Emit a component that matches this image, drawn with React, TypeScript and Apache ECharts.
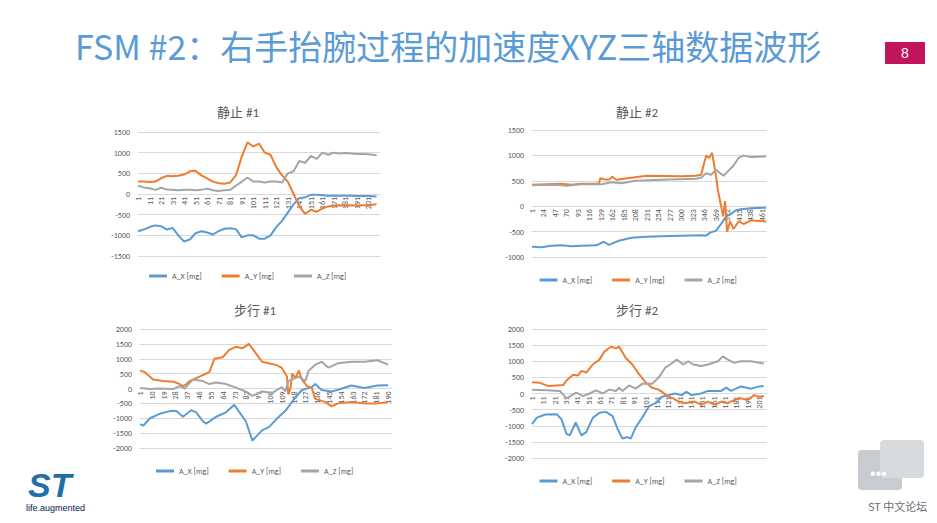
import { useEffect, useRef } from 'react';
import * as echarts from 'echarts';

type P = [number, number][];

const names = ['A_X [mg]', 'A_Y [mg]', 'A_Z [mg]'];
const colors = ['#5B9BD5', '#ED7D31', '#A5A5A5'];
const titles = ['静止 #1', '静止 #2', '步行 #1', '步行 #2'];

// 静止 #1
const s1x: P = [[1,-900],[6,-860],[11,-800],[16,-760],[21,-780],[26,-860],[31,-820],[36,-1000],[41,-1150],[46,-1100],[51,-950],[56,-900],[61,-930],[66,-980],[71,-900],[76,-840],[81,-830],[86,-850],[91,-1050],[96,-1000],[101,-1000],[106,-1080],[111,-1080],[116,-1000],[121,-800],[126,-650],[131,-450],[136,-250],[141,-100],[146,-80],[151,-20],[156,-20],[161,-30],[166,-40],[171,-40],[176,-40],[181,-40],[186,-40],[191,-50],[196,-50],[201,-50],[208,-60]];
const s1y: P = [[1,300],[6,300],[11,290],[16,300],[21,380],[26,440],[31,430],[36,440],[41,470],[46,550],[51,560],[56,450],[61,380],[66,300],[71,260],[76,250],[81,280],[86,450],[91,900],[96,1250],[101,1150],[106,1220],[111,1000],[116,950],[121,650],[126,450],[131,300],[136,0],[141,-300],[146,-480],[151,-380],[156,-430],[161,-350],[166,-300],[171,-280],[176,-270],[181,-280],[186,-270],[191,-280],[196,-270],[201,-270],[208,-250]];
const s1z: P = [[1,200],[6,160],[11,140],[16,100],[21,150],[26,110],[31,100],[36,90],[41,100],[46,100],[51,90],[56,100],[61,130],[66,90],[71,70],[76,90],[81,100],[86,200],[91,300],[96,400],[101,300],[106,300],[111,280],[116,300],[121,300],[126,280],[131,500],[136,550],[141,800],[146,750],[151,920],[156,850],[161,1000],[166,950],[171,1000],[176,980],[181,990],[186,980],[191,970],[196,970],[201,960],[208,940]];

// 静止 #2
const s2x: P = [[1,-800],[20,-810],[40,-780],[60,-770],[80,-790],[100,-780],[130,-770],[145,-700],[155,-760],[175,-680],[200,-620],[230,-600],[260,-590],[300,-580],[340,-570],[350,-580],[358,-520],[370,-480],[380,-350],[390,-200],[400,-150],[410,-80],[420,-60],[440,-40],[470,-30]];
const s2y: P = [[1,420],[30,430],[60,440],[80,420],[100,440],[135,440],[138,550],[145,530],[155,520],[162,580],[170,520],[185,540],[208,570],[231,600],[300,590],[330,600],[340,620],[350,1000],[356,950],[362,1050],[368,700],[374,300],[380,0],[384,-200],[388,100],[392,-500],[398,-300],[405,-450],[415,-300],[425,-350],[440,-280],[470,-300]];
const s2z: P = [[1,410],[50,420],[70,400],[100,430],[140,430],[160,470],[180,450],[208,500],[260,520],[330,540],[340,560],[350,650],[360,620],[370,720],[378,650],[385,600],[395,700],[405,800],[415,950],[425,1000],[440,970],[470,980]];

// 步行 #1
const s3x: P = [[1,-1200],[3.5,-1250],[8.6,-1000],[16,-850],[23.7,-760],[28.7,-760],[33.7,-950],[40,-730],[43.8,-800],[48.9,-1100],[51.4,-1180],[59,-950],[66.5,-800],[72.8,-550],[81.6,-1100],[86.6,-1750],[94.2,-1400],[99.2,-1300],[106.8,-950],[111.8,-750],[119.4,-300],[124.4,-50],[132,50],[134.5,150],[139.5,-50],[147,-100],[152,-40],[162,100],[172,20],[182,100],[190,110]];
const s3y: P = [[1,600],[4.8,550],[11,300],[18.6,250],[26.2,230],[31.2,150],[33.7,80],[36.3,150],[38.8,250],[46.3,400],[53.9,550],[57.7,1000],[64,1050],[69,1300],[74,1400],[79,1350],[84,1500],[89,1200],[94,900],[99,850],[104,800],[109,700],[113,400],[114,-200],[115.6,0],[117,500],[119.4,350],[122,600],[124.4,300],[128,100],[132,0],[134.5,-350],[142,-450],[147,-600],[152,-500],[162,-450],[172,-500],[182,-500],[190,-450]];
const s3z: P = [[1,20],[8.6,-20],[16,0],[26.2,-20],[31.2,80],[35,0],[41.3,300],[48.9,250],[53.9,150],[59,200],[66.5,150],[74,30],[81.6,-100],[86.6,-250],[94.2,-100],[101.8,-150],[109,50],[111.8,-100],[114,250],[122,400],[127,250],[129.5,600],[134.5,800],[139.5,900],[144.6,700],[152,850],[162,900],[172,900],[182,950],[190,800]];

// 步行 #2
const s4x: P = [[1,-950],[5.3,-750],[12.6,-650],[22.7,-640],[27,-800],[31.4,-1250],[34.3,-1300],[39.5,-900],[44.5,-1300],[48.8,-1200],[54.6,-750],[60.4,-600],[66.2,-570],[72,-700],[76.4,-1100],[80.7,-1400],[85,-1350],[88,-1400],[92.3,-1050],[98,-750],[104,-400],[109.7,-300],[115.5,-100],[121.3,-50],[127,0],[133,-50],[137,50],[141.6,-50],[150,0],[156,80],[164.8,80],[167.7,80],[172,180],[176.4,80],[185,220],[193.8,150],[201,220],[205,230]];
const s4y: P = [[1,350],[8.2,330],[15.5,230],[22.7,250],[28.5,260],[31.4,400],[37.2,580],[41.6,560],[44.5,700],[48.8,650],[54.6,900],[60.4,1050],[64.8,1300],[70.6,1450],[75,1400],[77.8,1450],[83.6,1100],[89.4,900],[95.2,600],[101,350],[106.8,180],[112.6,120],[115.5,50],[121.3,-100],[125.6,-150],[130,-250],[135.8,-300],[144.5,-250],[150.3,-350],[156,-250],[161.9,-350],[167.7,-250],[173.5,-300],[179.3,-200],[185,-150],[190.9,-200],[196.7,-50],[201,-100],[205.3,-80]];
const s4z: P = [[1,120],[14,100],[25.6,80],[31.4,-150],[40,30],[45.9,-80],[51.7,0],[57.5,100],[63.3,0],[69,120],[74.9,80],[77.8,180],[80.7,80],[86.5,250],[92.3,150],[98,300],[106.8,300],[112.6,500],[118.4,800],[122.7,900],[128.5,1050],[134.3,900],[138.7,1000],[143,900],[150.3,850],[156,900],[164.8,1000],[169,1150],[173.5,1050],[179.3,950],[185,1000],[193.8,1000],[201,950],[205.3,930]];

const seriesData = [[s1x, s1y, s1z], [s2x, s2y, s2z], [s3x, s3y, s3z], [s4x, s4y, s4z]];
const xMax = [211, 472, 193, 208];
const xStep = [10, 23, 9, 10];
const yRange = [[-1500, 1500], [-1000, 1500], [-2000, 2000], [-2000, 2000]];

// layout of the four panels: [left, right, top, bottom, titleX, titleY, legendY]
const panels = [
  [138, 380, 132, 256, 233, 110, 273],
  [532, 767, 130, 257, 632, 110, 277],
  [140, 392, 329, 448, 250, 308, 468],
  [532, 767, 329, 458, 632, 308, 478],
];

const W = 937, H = 523;
const grey = '#595959';

export default function App() {
  const ref = useRef<HTMLDivElement>(null);

  useEffect(() => {
    if (!ref.current) return;
    document.body.style.margin = '0';
    const chart = echarts.init(ref.current, undefined, { renderer: 'svg' });
    const font = 'Calibri, "Liberation Sans", "Noto Sans CJK SC", sans-serif';

    const series: any[] = [];
    seriesData.forEach((group, gi) =>
      group.forEach((d, si) =>
        series.push({
          name: names[si], type: 'line', xAxisIndex: gi, yAxisIndex: gi, data: d,
          showSymbol: false, lineStyle: { width: 2, color: colors[si] }, itemStyle: { color: colors[si] },
        }),
      ),
    );

    chart.setOption({
      animation: false,
      backgroundColor: '#fff',
      textStyle: { fontFamily: font },
      title: panels.map((p, i) => ({
        text: titles[i], left: p[4], top: p[5] - 9, textAlign: 'center',
        textStyle: { fontSize: 13, fontWeight: 'normal', color: grey, fontFamily: font },
      })),
      legend: panels.map((p) => ({
        data: names, left: (p[0] + p[1]) / 2 - 115, top: p[6] - 6, itemGap: 20,
        icon: 'rect', itemWidth: 18, itemHeight: 3, textStyle: { fontSize: 8, color: grey },
      })),
      grid: panels.map((p) => ({ left: p[0], width: p[1] - p[0], top: p[2], height: p[3] - p[2] })),
      xAxis: panels.map((p, i) => ({
        type: 'value', gridIndex: i, min: 1, max: xMax[i], interval: xStep[i], position: 'bottom',
        // put the axis on the zero line, as in the source charts
        offset: -((0 - yRange[i][0]) / (yRange[i][1] - yRange[i][0])) * (p[3] - p[2]),
        axisLine: { onZero: false, lineStyle: { color: '#D9D9D9' } },
        axisTick: { show: false }, splitLine: { show: false },
        axisLabel: { rotate: 90, fontSize: 8, color: grey, margin: 3, showMaxLabel: false, showMinLabel: true },
      })),
      yAxis: panels.map((_, i) => ({
        type: 'value', gridIndex: i, min: yRange[i][0], max: yRange[i][1], interval: 500,
        axisLine: { show: false, onZero: false }, axisTick: { show: false },
        splitLine: { lineStyle: { color: '#D9D9D9' } },
        axisLabel: { fontSize: 8, color: grey, margin: 8, formatter: (v: number) => String(v) },
      })),
      series,
      graphic: [
        { type: 'text', left: 75, top: 28, style: { text: 'FSM #2：右手抬腕过程的加速度XYZ三轴数据波形', fontSize: 34, fill: '#5B9BD5', fontFamily: '"Noto Sans CJK SC", sans-serif' } },
        { type: 'rect', shape: { x: 885, y: 42, width: 40, height: 22 }, style: { fill: '#C0145C' } },
        { type: 'text', x: 905, y: 53, style: { text: '8', fontSize: 14, fill: '#fff', align: 'center', verticalAlign: 'middle', fontFamily: 'Arial' } },
        { type: 'text', x: 28, y: 468, style: { text: 'ST', fontSize: 34, fontWeight: 'bold', fontStyle: 'italic', fill: '#1F6FA8', fontFamily: 'Arial' } },
        { type: 'text', x: 26, y: 503, style: { text: 'life.augmented', fontSize: 9, fill: '#03234B', fontFamily: 'Arial' } },
        { type: 'rect', shape: { x: 858, y: 450, width: 44, height: 40, r: 4 }, style: { fill: '#C8CCD0' } },
        { type: 'rect', shape: { x: 880, y: 440, width: 44, height: 38, r: 4 }, style: { fill: '#D8DBDE' } },
        { type: 'text', x: 870, y: 465, style: { text: '•••', fontSize: 16, fill: '#fff' } },
        { type: 'text', x: 868, y: 500, style: { text: 'ST 中文论坛', fontSize: 11, fill: '#6A6E73', fontFamily: '"Noto Sans CJK SC", sans-serif' } },
      ],
    });
    return () => chart.dispose();
  }, []);

  return <div ref={ref} style={{ width: W, height: H }} />;
}
